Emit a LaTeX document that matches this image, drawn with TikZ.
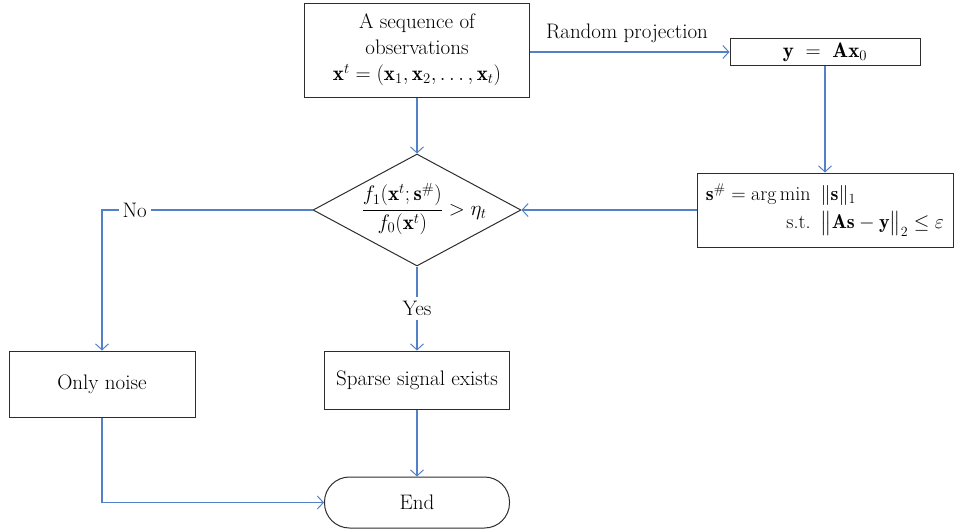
\RequirePackage{fix-cm}
\documentclass[tikz,border=0pt]{standalone}
\usepackage{amsmath,amssymb}
\usepackage{fontspec}
\usetikzlibrary{shapes.geometric,arrows.meta}
\definecolor{flowblue}{RGB}{84,128,200}
\definecolor{boxgray}{RGB}{45,45,45}
\begin{document}
\begin{tikzpicture}[x=1pt,y=-1pt, font=\fontsize{21}{26}\selectfont,
  box/.style={draw=boxgray, line width=1pt, inner sep=0pt, align=center},
  flow/.style={draw=flowblue, line width=1.2pt, -{Straight Barb[length=6pt,width=13pt,line width=1pt]}},
  lab/.style={fill=white, inner sep=4pt}]
\useasboundingbox (0,0) rectangle (954,531);
\node[box, minimum width=225pt, minimum height=94pt] (obs) at (417,50)
  {A sequence of\\observations\\$\mathbf{x}^t=(\mathbf{x}_1,\mathbf{x}_2,\ldots,\mathbf{x}_t)$};
\node[box, minimum width=190pt, minimum height=27pt] (yax) at (825,52)
  {$\mathbf{y}\;=\;\mathbf{A}\mathbf{x}_0$};
\node[box, minimum width=256pt, minimum height=74pt, font=\fontsize{20}{24}\selectfont] (opt) at (825,210)
  {$\begin{array}{@{}r@{\hspace{10pt}}l@{}}
    \mathbf{s}^{\#}=\arg\min & \|\mathbf{s}\|_1\\[4pt]
    \text{s.t.} & \big\|\mathbf{A}\mathbf{s}-\mathbf{y}\big\|_2\le\varepsilon
   \end{array}$};
\node[draw=boxgray, line width=1pt, diamond, minimum width=208pt, minimum height=112pt, inner sep=0pt] (dec) at (417,210) {};
\node (dectext) at (424,209) {$\dfrac{f_1(\mathbf{x}^t;\mathbf{s}^{\#})}{f_0(\mathbf{x}^t)}>\eta_t$};
\node[box, minimum width=185pt, minimum height=58pt] (sparse) at (417,380) {Sparse signal exists};
\node[box, minimum width=186pt, minimum height=66pt] (noise) at (102,384) {Only noise};
\node[box, minimum width=185pt, minimum height=51pt, rounded corners=25pt] (end) at (417,502.5) {End};
\node (rp) at (627,33) {Random projection};
\draw[flow] (obs.south) -- (dec.north);
\draw[flow] (obs.east |- yax.west) -- (yax.west);
\draw[flow] (yax.south) -- (opt.north);
\draw[flow] (opt.west) -- (dec.east);
\draw[flow] (dec.west) -- node[lab, pos=0.845] (no) {No} (noise.north |- dec.west) -- (noise.north);
\draw[flow] (dec.south) -- node[lab] (yes) {Yes} (sparse.north);
\draw[flow] (sparse.south) -- (end.north);
\draw[flow] (noise.south) |- (end.west);
\end{tikzpicture}
\end{document}
